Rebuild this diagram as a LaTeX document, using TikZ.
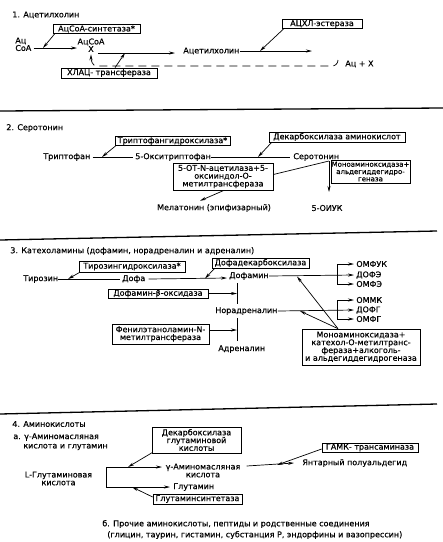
\documentclass[tikz,border=0pt]{standalone}
\usepackage{fontspec}
\setmainfont{DejaVu Sans}[FakeBold=0.4]
\usetikzlibrary{arrows.meta}
\newcommand{\dfs}{\fontsize{8}{7.8}\selectfont}
\newcommand{\sfs}{\fontsize{7}{7.3}\selectfont}
\begin{document}
\begin{tikzpicture}[x=1pt,y=-1pt,line width=0.7pt,
  every node/.style={inner sep=0pt},
  lbl/.style={font=\dfs, align=center},
  box/.style={draw, align=center, inner sep=0.5pt, font=\dfs},
  arr/.style={-{Stealth[length=6pt,width=3pt]}},
  rulel/.style={line width=1.3pt},
  dsh/.style={dash pattern=on 8pt off 5pt}]
\useasboundingbox (0,0) rectangle (443,542);
\fill[white] (0,0) rectangle (443,542);

% ---------- Section 1
\node[lbl,anchor=west] (t1) at (12,15) {1. Ацетилхолин};
\node[lbl,anchor=west] (ac) at (15,41) {Ац};
\node[lbl,anchor=west] (coa) at (15,48) {CoA};
\node[box,minimum width=87pt,minimum height=9pt] (acs) at (96.5,29) {АцCoA-синтетаза*};
\node[lbl] (acoa) at (91,42) {АцCoA};
\node[lbl] (xx) at (91,49) {X};
\coordinate (e1) at (77,48);
\coordinate (m1) at (43,48);
\draw[arr] ([xshift=2pt]coa.east) -- (e1);
\draw[arr] ([xshift=2pt]acs.south west) -- (m1);
\node[lbl,anchor=west] (ach) at (183,51) {Ацетилхолин};
\coordinate (s2) at (98,53);
\coordinate (e2) at (175,53);
\draw[arr] (s2) -- (e2);
\coordinate (e3) at (312,51);
\draw[arr] (ach.east) -- (e3);
\node[box,minimum width=80pt,minimum height=9pt] (ache) at (322,24) {АЦХЛ-эстераза};
\coordinate (m3) at (260,51);
\draw[arr] ([xshift=2pt]ache.south west) -- (m3);
\node[box,minimum width=96pt,minimum height=10pt] (chat) at (109,73) {ХЛАЦ- трансфераза};
\coordinate (m2) at (125,53);
\draw[arr] ([xshift=6pt]chat.north) -- (m2);
\node[lbl,anchor=west] (acx) at (345,64) {Ац + X};
\draw[arr,dsh] ([xshift=-7pt,yshift=4pt]acx.west) to[out=-90,in=0] (332,66) -- (97,66) to[out=180,in=-90] ([yshift=-2pt]xx.south);

\draw[rulel] (0,111) -- (443,108);

% ---------- Section 2
\node[lbl,anchor=west] (t2) at (6,128) {2. Серотонин};
\node[lbl,anchor=west] (trp) at (43,157) {Триптофан};
\node[lbl,anchor=west] (htp) at (135,157) {5-Окситриптофан};
\node[lbl,anchor=west] (ser) at (293,157) {Серотонин};
\draw ([xshift=2pt]trp.east) -- ([xshift=-2pt]htp.west);
\draw (htp.east) -- ([xshift=-3pt]ser.west);
\node[box,minimum width=115pt,minimum height=9pt] (tph) at (172.5,141) {Триптофангидроксилаза*};
\coordinate (m4) at (102,157);
\draw[arr] ([xshift=1pt]tph.south west) -- (m4);
\node[box,minimum width=136pt,minimum height=10pt] (aadc) at (337,137) {Декарбоксилаза аминокислот};
\coordinate (m5) at (258,157);
\draw[arr] ([xshift=3pt]aadc.south west) -- (m5);
\node[box,minimum width=100pt,minimum height=27pt] (nat) at (223,176.5) {5-ОТ-N-ацетилаза+5-\\оксииндол-О-\\метилтрансфераза};
\coordinate (br) at (329,161);
\draw (br) -- ([yshift=2pt]nat.east);
\node[lbl] (mel) at (214,208) {Мелатонин (эпифизарный)};
\draw[arr] ([xshift=1pt]nat.south) -- ([xshift=-14pt,yshift=3pt]mel.north);
\node[box,minimum width=79pt,minimum height=23pt,font=\sfs] (mao) at (370.5,171.5) {Моноаминоксидаза+\\альдегиддегидро-\\геназа};
\node[lbl] (hiaa) at (327,208) {5-ОИУК};
\coordinate (e5) at (329,192);
\draw[arr] (br) -- (e5);

\draw[rulel] (0,240) -- (437,231);

% ---------- Section 3
\node[lbl,anchor=west] (t3) at (10,251) {3. Катехоламины (дофамин, норадреналин и адреналин)};
\node[box,minimum width=106pt,minimum height=11pt] (tyh) at (132,266.5) {Тирозингидроксилаза*};
\node[lbl,anchor=west] (tyr) at (23,279) {Тирозин};
\node[lbl,anchor=west] (dopa) at (122,279) {Дофа};
\node[lbl,anchor=west] (da) at (229,276) {Дофамин};
\draw (tyr.east) -- ([xshift=-2pt]dopa.west);
\coordinate (e6) at (227,278);
\draw[arr] ([xshift=3pt]dopa.east) -- (e6);
\coordinate (m6) at (68,279);
\draw[arr] ([xshift=1pt]tyh.south west) -- (m6);
\node[box,minimum width=97pt,minimum height=10pt] (ddc) at (260.5,263) {Дофадекарбоксилаза};
\coordinate (m7) at (205,278.5);
\draw[arr] ([xshift=3pt]ddc.south west) -- (m7);
\node[lbl,anchor=west] (ne) at (215,311) {Норадреналин};
\node[lbl,anchor=west] (adr) at (218,349) {Адреналин};
\coordinate (v1) at (237,283);
\coordinate (v2) at (237,304);
\coordinate (v3) at (237,318);
\coordinate (v4) at (237,341);
\draw (v1) -- (v2);
\draw (v3) -- (v4);
\node[box,minimum width=100pt,minimum height=9pt] (dbh) at (158,293.5) {Дофамин-β-оксидаза};
\coordinate (m8) at (237,293.5);
\draw[arr] (dbh.east) -- (m8);
\node[box,minimum width=97pt,minimum height=20pt] (pnmt) at (160.5,334) {Фенилэтаноламин-N-\\метилтрансфераза};
\coordinate (m9) at (237,330);
\draw[arr] (pnmt.east |- m9) -- (m9);

\node[lbl,anchor=west] (omfuk) at (356,264) {ОМФУК};
\node[lbl,anchor=west] (dofe) at (356,275) {ДОФЭ};
\node[lbl,anchor=west] (omfe) at (356,284) {ОМФЭ};
\coordinate (b1) at (337,275);
\draw[arr] (da.east) -- ([xshift=-2pt]dofe.west);
\draw[arr] (b1) |- ([xshift=-2pt]omfuk.west);
\draw[arr] (b1) |- ([xshift=-2pt]omfe.west);
\node[lbl,anchor=west] (ommk) at (356,300) {ОММК};
\node[lbl,anchor=west] (dofg) at (356,310) {ДОФГ};
\node[lbl,anchor=west] (omfg) at (356,319) {ОМФГ};
\coordinate (b2) at (337,310);
\draw[arr] (ne.east) -- ([xshift=-2pt]dofg.west);
\draw[arr] (b2) |- ([xshift=-2pt]ommk.west);
\draw[arr] (b2) |- ([xshift=-2pt]omfg.west);
\node[box,minimum width=118pt,minimum height=36pt] (mao2) at (361,347) {Моноаминоксидаза+\\катехол-О-метилтранс-\\фераза+алкоголь-\\и альдегиддегидрогеназа};
\coordinate (m10) at (297,276.5);
\coordinate (m11) at (300,311);
\draw[arr] ([xshift=-23pt]mao2.north) -- (m10);
\draw[arr] ([xshift=-23pt]mao2.north) -- (m11);

\draw[rulel] (0,414) -- (437,404);

% ---------- Section 4
\node[lbl,anchor=west] (t4) at (12,424) {4. Аминокислоты};
\node[lbl,anchor=west] (t4a) at (13,437) {а. γ-Аминомасляная};
\node[lbl,anchor=west] (t4b) at (23,447) {кислота и глутамин};
\node[lbl] (glu) at (58.5,478.5) {L-Глутаминовая\\кислота};
\coordinate (g1) at (106,467);
\coordinate (g2) at (106,487);
\draw (g1) -- (g2);
\node[lbl] (gaba) at (203,470.5) {γ-Аминомасляная\\кислота};
\node[lbl,anchor=west] (gln) at (173,487) {Глутамин};
\coordinate (g3) at (162,467);
\draw[arr] (g1) -- (g3);
\draw[arr] (g2) -- ([xshift=-3pt]gln.west);
\node[box,minimum width=89pt,minimum height=26pt] (gad) at (196.5,440) {Декарбоксилаза\\глутаминовой\\кислоты};
\coordinate (m12) at (128,467);
\draw[arr] ([xshift=1pt,yshift=1pt]gad.south west) -- (m12);
\node[box,minimum width=89pt,minimum height=10pt] (gs) at (197.5,499) {Глутаминсинтетаза};
\coordinate (m13) at (132,487);
\draw[arr] ([yshift=2pt]gs.west) -- (m13);
\node[lbl,anchor=west] (ssa) at (302,463) {Янтарный полуальдегид};
\draw[arr] ([xshift=6pt,yshift=4.5pt]gaba.east) -- ([xshift=-8pt]ssa.west);
\node[box,minimum width=96pt,minimum height=9pt] (gt) at (370,447.5) {ГАМК- трансаминаза};
\coordinate (m14) at (277,465);
\draw[arr] ([yshift=-1.5pt]gt.west) -- (m14);

\node[lbl,anchor=west] (t4c) at (102,524) {б. Прочие аминокислоты, пептиды и родственные соединения};
\node[lbl,anchor=west] (t4d) at (107,535) {(глицин, таурин, гистамин, субстанция Р, эндорфины и вазопрессин)};
\end{tikzpicture}
\end{document}
